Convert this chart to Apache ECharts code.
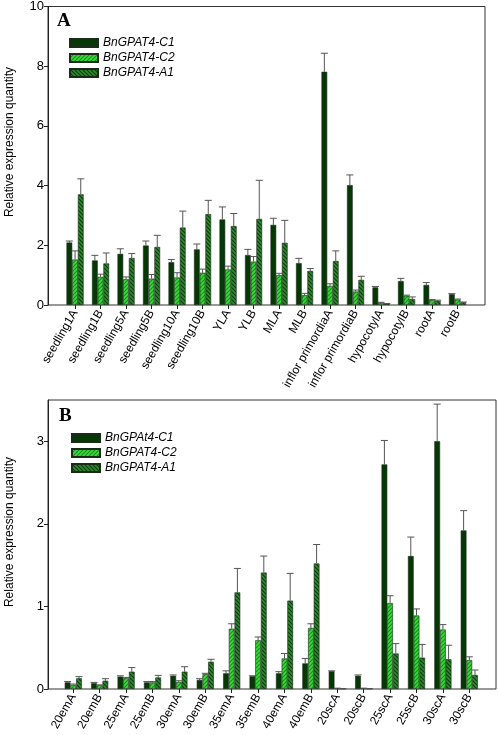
<!DOCTYPE html>
<html><head><meta charset="utf-8">
<script src="https://cdn.jsdelivr.net/npm/echarts@6/dist/echarts.min.js"></script>
<style>html,body{margin:0;padding:0;background:#fff}#c{width:498px;height:735px}</style>
</head><body><div id="c"></div>
<script>
// ---------- Data: panel A ----------
const categoriesA = ['seedling1A','seedling1B','seedling5A','seedling5B','seedling10A','seedling10B','YLA','YLB','MLA','MLB','inflor primordiaA','inflor primordiaB','hypocotylA','hypocotylB','rootA','rootB'];
const c1A   = [2.09,1.49,1.71,1.99,1.43,1.86,2.86,1.67,2.68,1.40,7.80,4.01,0.59,0.80,0.67,0.36];
const c1AUp = [2.14,1.66,1.88,2.14,1.52,2.04,3.28,1.86,2.90,1.56,8.42,4.35,0.62,0.89,0.75,0.38];
const c2A   = [1.52,0.94,0.86,0.88,0.92,1.08,1.19,1.45,1.00,0.33,0.64,0.45,0.08,0.31,0.17,0.18];
const c2AUp = [1.81,1.03,0.94,1.02,1.08,1.20,1.30,1.62,1.06,0.39,0.71,0.50,0.09,0.33,0.18,0.20];
const a1A   = [3.70,1.39,1.57,1.94,2.59,3.04,2.64,2.88,2.08,1.14,1.47,0.84,0.04,0.20,0.14,0.09];
const a1AUp = [4.22,1.74,1.72,2.33,3.14,3.50,3.06,4.17,2.83,1.22,1.81,0.96,0.05,0.27,0.16,0.10];
const namesA = ['BnGPAT4-C1','BnGPAT4-C2','BnGPAT4-A1'];
const yTicksA = [0,2,4,6,8,10];

// ---------- Data: panel B ----------
const categoriesB = ['20emA','20emB','25emA','25emB','30emA','30emB','35emA','35emB','40emA','40emB','20scA','20scB','25scA','25scB','30scA','30scB'];
const c1B   = [0.08,0.07,0.15,0.08,0.16,0.11,0.19,0.155,0.19,0.31,0.215,0.16,2.72,1.61,3.00,1.92];
const c1BUp = [0.09,0.08,0.16,0.09,0.17,0.125,0.22,0.16,0.21,0.37,0.22,0.17,3.01,1.84,3.45,2.16];
const c2B   = [0.05,0.045,0.13,0.08,0.085,0.18,0.73,0.59,0.37,0.74,0.01,0.01,1.04,0.89,0.72,0.35];
const c2BUp = [0.06,0.05,0.14,0.09,0.10,0.19,0.79,0.63,0.43,0.79,0.01,0.01,1.13,0.97,0.78,0.39];
const a1B   = [0.13,0.10,0.21,0.14,0.21,0.33,1.17,1.41,1.07,1.52,0.005,0.005,0.43,0.38,0.36,0.17];
const a1BUp = [0.15,0.125,0.26,0.165,0.27,0.36,1.46,1.61,1.40,1.75,0.005,0.005,0.55,0.54,0.53,0.23];
const namesB = ['BnGPAt4-C1','BnGPAT4-C2','BnGPAT4-A1'];
const yTicksB = [0,1,2,3];

// ---------- Styles ----------
const BW = 5.7;
function stripes(bg, fg, dir) {
  const c = document.createElement('canvas');
  c.width = 4; c.height = 4;
  const g = c.getContext('2d');
  g.fillStyle = bg; g.fillRect(0,0,4,4);
  g.strokeStyle = fg; g.lineWidth = 1.2;
  g.beginPath();
  if (dir === '/') {
    g.moveTo(0,4); g.lineTo(4,0);
    g.moveTo(-1,1); g.lineTo(1,-1);
    g.moveTo(3,5); g.lineTo(5,3);
  } else {
    g.moveTo(0,0); g.lineTo(4,4);
    g.moveTo(-1,3); g.lineTo(1,5);
    g.moveTo(3,-1); g.lineTo(5,1);
  }
  g.stroke();
  return {image: c, repeat: 'repeat'};
}
const colC1 = '#053805';
const colC2 = stripes('#3fd83f', '#17921a', '/');
const colA1 = stripes('#2f8a2f', '#0b3d0b', '\\');
const fills = [colC1, colC2, colA1];
const border = {borderColor: '#1b2a1b', borderWidth: 0.6};

function barSeries(name, vals, k, xi, yi) {
  return {type: 'bar', name: name, xAxisIndex: xi, yAxisIndex: yi, data: vals,
    barWidth: BW, barGap: '0%', itemStyle: Object.assign({color: fills[k]}, border),
    z: 2, silent: true};
}
function errSeries(vals, ups, k, xi, yi) {
  return {type: 'custom', xAxisIndex: xi, yAxisIndex: yi, silent: true, z: 3,
    data: vals.map((v, i) => [i, v, ups[i]]),
    encode: {x: 0, y: [1, 2]},
    renderItem: function (params, api) {
      const i = api.value(0);
      const p0 = api.coord([i, api.value(1)]);
      const p1 = api.coord([i, api.value(2)]);
      const x = p0[0] + (k - 1) * BW;
      return {type: 'group', children: [
        {type: 'line', shape: {x1: x, y1: p0[1], x2: x, y2: p1[1]}, style: {stroke: '#555', lineWidth: 1}},
        {type: 'line', shape: {x1: x - 3.5, y1: p1[1], x2: x + 3.5, y2: p1[1]}, style: {stroke: '#555', lineWidth: 1}}
      ]};
    }};
}

const font = 'Liberation Sans, Arial, sans-serif';
function catAxis(cats, gi) {
  return {type: 'category', gridIndex: gi, data: cats, boundaryGap: true,
    axisLine: {show: false},
    axisTick: {show: true, alignWithLabel: true, length: 4, lineStyle: {color: '#222'}},
    axisLabel: {rotate: 60, fontSize: 12, color: '#000', fontFamily: font, margin: 6, interval: 0},
    splitLine: {show: false}};
}
function hiddenVal(gi, max) {
  return {type: 'value', gridIndex: gi, min: 0, max: max, show: false, splitLine: {show: false}};
}
function frameY(gi, max, ticks) {
  return {type: 'value', gridIndex: gi, min: 0, max: max,
    axisLine: {show: true, lineStyle: {color: '#222'}},
    axisTick: {show: true, length: 4, customValues: ticks, lineStyle: {color: '#222'}},
    axisLabel: {customValues: ticks, fontSize: 13, color: '#000', fontFamily: font, margin: 4},
    splitLine: {show: false}};
}
const legendText = {fontSize: 12, fontStyle: 'italic', fontFamily: font, color: '#000', lineHeight: 14};
const titleText = {fontFamily: 'Liberation Serif, Times New Roman, serif', fontWeight: 'bold', fontSize: 19, color: '#000'};

const chart = echarts.init(document.getElementById('c'), null, {renderer: 'canvas'});
chart.setOption({
  animation: false,
  backgroundColor: '#fff',
  title: [
    {text: 'A', left: 57, top: 12, padding: 0, textStyle: titleText},
    {text: 'B', left: 59, top: 407, padding: 0, textStyle: titleText}
  ],
  legend: [
    {data: namesA, orient: 'vertical', left: 69, top: 36, padding: 0, itemWidth: 28, itemHeight: 8, itemGap: 1,
     icon: 'rect', textStyle: legendText, selectedMode: false},
    {data: namesB, orient: 'vertical', left: 71, top: 431, padding: 0, itemWidth: 28, itemHeight: 8, itemGap: 1,
     icon: 'rect', textStyle: legendText, selectedMode: false}
  ],
  grid: [
    {left: 62.3, top: 6, width: 408, height: 299, show: false},
    {left: 48, top: 6, width: 437, height: 299, show: true, borderColor: '#333', borderWidth: 1, backgroundColor: 'transparent'},
    {left: 60.1, top: 400, width: 422.4, height: 289, show: false},
    {left: 48, top: 400, width: 448, height: 289, show: true, borderColor: '#333', borderWidth: 1, backgroundColor: 'transparent'}
  ],
  xAxis: [
    catAxis(categoriesA, 0),
    {type: 'value', gridIndex: 1, show: false},
    catAxis(categoriesB, 2),
    {type: 'value', gridIndex: 3, show: false}
  ],
  yAxis: [
    hiddenVal(0, 10),
    frameY(1, 10, yTicksA),
    hiddenVal(2, 3.5),
    frameY(3, 3.5, yTicksB)
  ],
  graphic: [
    {type: 'text', x: 10, y: 142, rotation: Math.PI / 2,
     style: {text: 'Relative expression quantity', font: '12px ' + font, fill: '#000', textAlign: 'center', textVerticalAlign: 'middle'}},
    {type: 'text', x: 10, y: 532, rotation: Math.PI / 2,
     style: {text: 'Relative expression quantity', font: '12px ' + font, fill: '#000', textAlign: 'center', textVerticalAlign: 'middle'}}
  ],
  series: [
    barSeries(namesA[0], c1A, 0, 0, 0),
    barSeries(namesA[1], c2A, 1, 0, 0),
    barSeries(namesA[2], a1A, 2, 0, 0),
    errSeries(c1A, c1AUp, 0, 0, 0),
    errSeries(c2A, c2AUp, 1, 0, 0),
    errSeries(a1A, a1AUp, 2, 0, 0),
    barSeries(namesB[0], c1B, 0, 2, 2),
    barSeries(namesB[1], c2B, 1, 2, 2),
    barSeries(namesB[2], a1B, 2, 2, 2),
    errSeries(c1B, c1BUp, 0, 2, 2),
    errSeries(c2B, c2BUp, 1, 2, 2),
    errSeries(a1B, a1BUp, 2, 2, 2)
  ]
});
</script></body></html>
